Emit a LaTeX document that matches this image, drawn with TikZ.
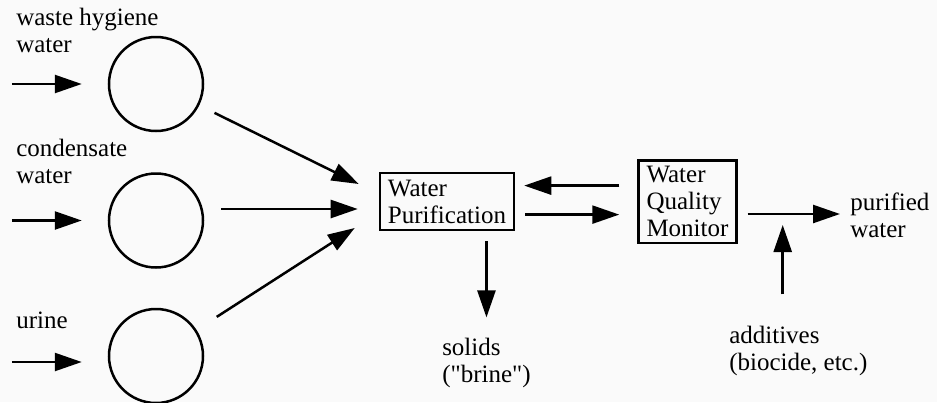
\documentclass[tikz,border=0pt]{standalone}
\usepackage{fontspec}
\newfontfamily\diagfont{Liberation Serif}
\usetikzlibrary{arrows.meta,positioning}

\begin{document}
\begin{tikzpicture}[x=1pt,y=1pt,font=\diagfont\fontsize{12.5}{13.5}\selectfont,line width=1.25pt,
  tank/.style={draw,circle,minimum size=47pt,inner sep=0pt},
  box/.style={draw,align=left,inner xsep=4pt},
  lbl/.style={align=left,inner sep=0pt,anchor=base west},
  >={Triangle[length=13.5pt,width=9pt]}]
\path[use as bounding box,fill=black!2] (0,0) rectangle (468.5,-201);
% sources
\node[tank] (hyg) at (78,-42) {};
\node[tank,below=20pt of hyg] (cond) {};
\node[tank,below=19.5pt of cond] (urine) {};
\node[lbl] (hyglbl) at (7.5,-26) {waste hygiene\\water};
\node[lbl] (condlbl) at (7.5,-91.5) {condensate\\water};
\node[lbl] (urinelbl) at (7.5,-164) {urine};
\coordinate (hygin) at ([xshift=-48pt]hyg.west);
\coordinate (condin) at ([xshift=-48pt]cond.west);
\coordinate (urinein) at ([xshift=-48pt,yshift=-3pt]urine.west);
\draw[->,shorten >=13pt] (hygin) -- (hyg);
\draw[->,shorten >=13pt] (condin) -- (cond);
\draw[->,shorten >=13pt] (urinein) -- (urine.west |- urinein);
% treatment
\node[box,minimum height=28pt] (pur) at (223.5,-100.8) {Water\\Purification};
\node[box,inner ysep=3pt,right=61pt of pur] (mon) {Water\\Quality\\Monitor};
\coordinate (hygto) at ([xshift=-10pt,yshift=8.8pt]pur.west);
\coordinate (condto) at ([xshift=-10.5pt,yshift=-3.7pt]pur.west);
\coordinate (urineto) at ([xshift=-12pt,yshift=-13.2pt]pur.west);
\draw[->,shorten <=8.5pt] (hyg) -- (hygto);
\draw[->,shorten <=8.5pt] (cond.east |- condto) -- (condto);
\draw[->,shorten <=12pt] (urine) -- (urineto);
\draw[->,shorten <=9pt,shorten >=4.5pt] ([yshift=8pt]mon.west) -- ([yshift=8pt]pur.east);
\draw[->,shorten <=5pt,shorten >=9pt] ([yshift=-6.5pt]pur.east) -- ([yshift=-6.5pt]mon.west);
% outputs
\node[lbl] (sollbl) at (220.5,-191) {solids\\("brine")};
\node[lbl] (outlbl) at (424.5,-118.5) {purified\\water};
\node[lbl] (addlbl) at (364,-185) {additives\\(biocide, etc.)};
\draw[->,shorten <=5pt,shorten >=9.5pt] (pur.south -| sollbl.north) -- (sollbl.north);
\coordinate (outto) at ([xshift=-4.5pt,yshift=11.5pt]outlbl.base west);
\draw[->,shorten <=5pt] (mon.east |- outto) -- (outto);
\coordinate (mix) at ([xshift=22.5pt,yshift=-11.7pt]mon.east);
\draw[->,shorten <=15pt] (addlbl.north -| mix) -- (mix);
\end{tikzpicture}
\end{document}
